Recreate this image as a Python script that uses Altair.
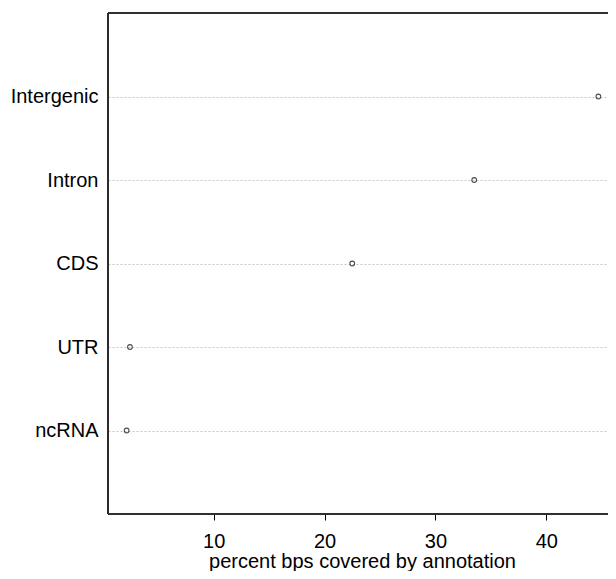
import altair as alt
import pandas as pd

categories = ["Intergenic", "Intron", "CDS", "UTR", "ncRNA"]
values = [44.7, 33.5, 22.5, 2.45, 2.15]
x_ticks = [10, 20, 30, 40]
x_title = "percent bps covered by annotation"

df = pd.DataFrame({"category": categories, "value": values})

W, H = 500, 501
FONT = "Liberation Sans"

xscale = alt.Scale(domain=[0.47, 0.47 + W / 11.087], nice=False, zero=False)
yscale = alt.Scale(type="point", domain=categories, padding=1)

points = alt.Chart(df).mark_point(
    shape="circle", filled=False, size=22, strokeWidth=1.1, color="#000000"
).encode(
    x=alt.X("value:Q", scale=xscale, axis=alt.Axis(
        values=x_ticks, grid=False, domain=False, ticks=True,
        tickColor="#000000", tickSize=6, tickWidth=1,
        labelFontSize=20, labelColor="#000000", labelBaseline="alphabetic",
        labelPadding=27, labelFont=FONT,
        title=x_title, titleFontSize=20, titleFontWeight="normal",
        titleColor="#000000", titleFont=FONT, titleBaseline="alphabetic",
        titleY=53, titleX=254, titleAlign="center")),
    y=alt.Y("category:N", scale=yscale, sort=categories, axis=alt.Axis(
        title=None, domain=False, ticks=False, grid=True,
        gridDash=[2, 2], gridColor="#c4c4c4", gridWidth=1,
        labelFontSize=20, labelColor="#000000", labelFont=FONT,
        labelPadding=10, labelAlign="right", labelBaseline="middle")),
)

frame_color = "#2a2a2a"
left = alt.Chart(df).mark_rule(color=frame_color, strokeWidth=1.2).encode(
    x=alt.value(0), y=alt.value(0), y2=alt.value(H))
top = alt.Chart(df).mark_rule(color=frame_color, strokeWidth=1.2).encode(
    x=alt.value(0), x2=alt.value(W), y=alt.value(0))
bottom = alt.Chart(df).mark_rule(color=frame_color, strokeWidth=1.2).encode(
    x=alt.value(0), x2=alt.value(W), y=alt.value(H))

chart = alt.layer(points, left, top, bottom).properties(
    width=W, height=H,
    padding={"left": 100, "top": 5, "right": 0, "bottom": 57},
    autosize=alt.AutoSizeParams(type="none"),
).configure_view(stroke=None).configure(background="white")

chart.save("out.html", embed_options={"renderer": "svg", "actions": False})
